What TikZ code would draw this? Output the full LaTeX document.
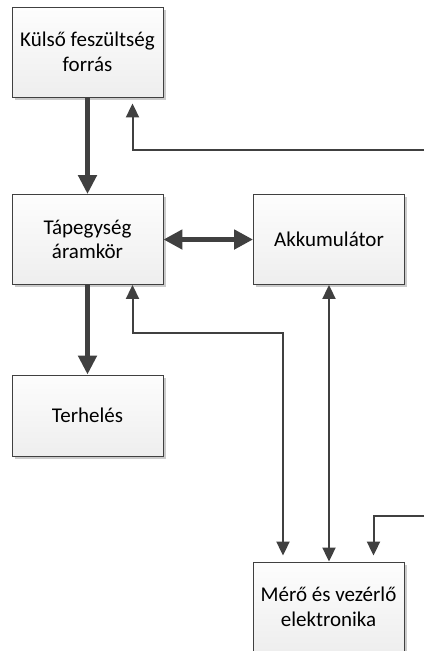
\documentclass[tikz,border=0pt]{standalone}
\usepackage{fontspec}
\setmainfont{Carlito}
\usetikzlibrary{arrows.meta,shadows}
\definecolor{linegray}{HTML}{404040}
\definecolor{boxtop}{HTML}{FDFDFD}
\definecolor{boxbot}{HTML}{EEEEEE}
\tikzset{
  block/.style={draw=linegray, line width=0.9pt, top color=boxtop, bottom color=boxbot,
    minimum width=151pt, minimum height=90pt, align=center, inner sep=2pt,
    font=\fontsize{21}{24.5}\selectfont,
    drop shadow={shadow xshift=2.5pt, shadow yshift=-2.5pt, fill=black!45, opacity=0.45}},
  heavy/.style={draw=linegray, line width=5pt, -{Triangle[length=19pt,width=18pt]}},
  heavyboth/.style={draw=linegray, line width=5pt, {Triangle[length=19pt,width=19pt]}-{Triangle[length=19pt,width=19pt]}},
  light/.style={draw=linegray, line width=2pt, -{Triangle[length=14pt,width=13pt]}},
  lightboth/.style={draw=linegray, line width=2pt, {Triangle[length=14pt,width=13pt]}-{Triangle[length=14pt,width=13pt]}}
}
\begin{document}
\begin{tikzpicture}[x=1pt,y=-1pt]
  \useasboundingbox[fill=white] (0,0) rectangle (424,651);
  \begin{scope}
  \clip (0,0) rectangle (424,651);
  % blocks
  \node[block] (src)  at (87.5,52)    {Külső feszültség\\forrás};
  \node[block] (psu)  at (87.5,239.5) {Tápegység\\áramkör};
  \node[block] (acc)  at (329,239.5)  {Akkumulátor};
  \node[block, minimum height=81pt] (load) at (87.5,415.5) {Terhelés};
  \node[block] (ctrl) at (328.5,607)  {Mérő és vezérlő\\elektronika};

  % free ends at the right edge
  \coordinate (in1) at (424,150);
  \coordinate (in2) at (424,516);

  % power paths
  \draw[heavy] (src.south) -- (psu.north);
  \draw[heavyboth] (psu.east) -- (acc.west);
  \draw[heavy] (psu.south) -- (load.north);

  % measurement and control signals
  \draw[light] (in1) -| ([xshift=45pt,yshift=-6pt]src.south);
  \draw[lightboth] ([xshift=45pt]psu.south) |- (283,333) -- ([xshift=-45.5pt,yshift=6pt]ctrl.north);
  \draw[lightboth] (acc.south) -- (acc.south |- ctrl.north);
  \draw[light] (in2) -| ([xshift=45pt,yshift=6pt]ctrl.north);
  \end{scope}
\end{tikzpicture}
\end{document}
